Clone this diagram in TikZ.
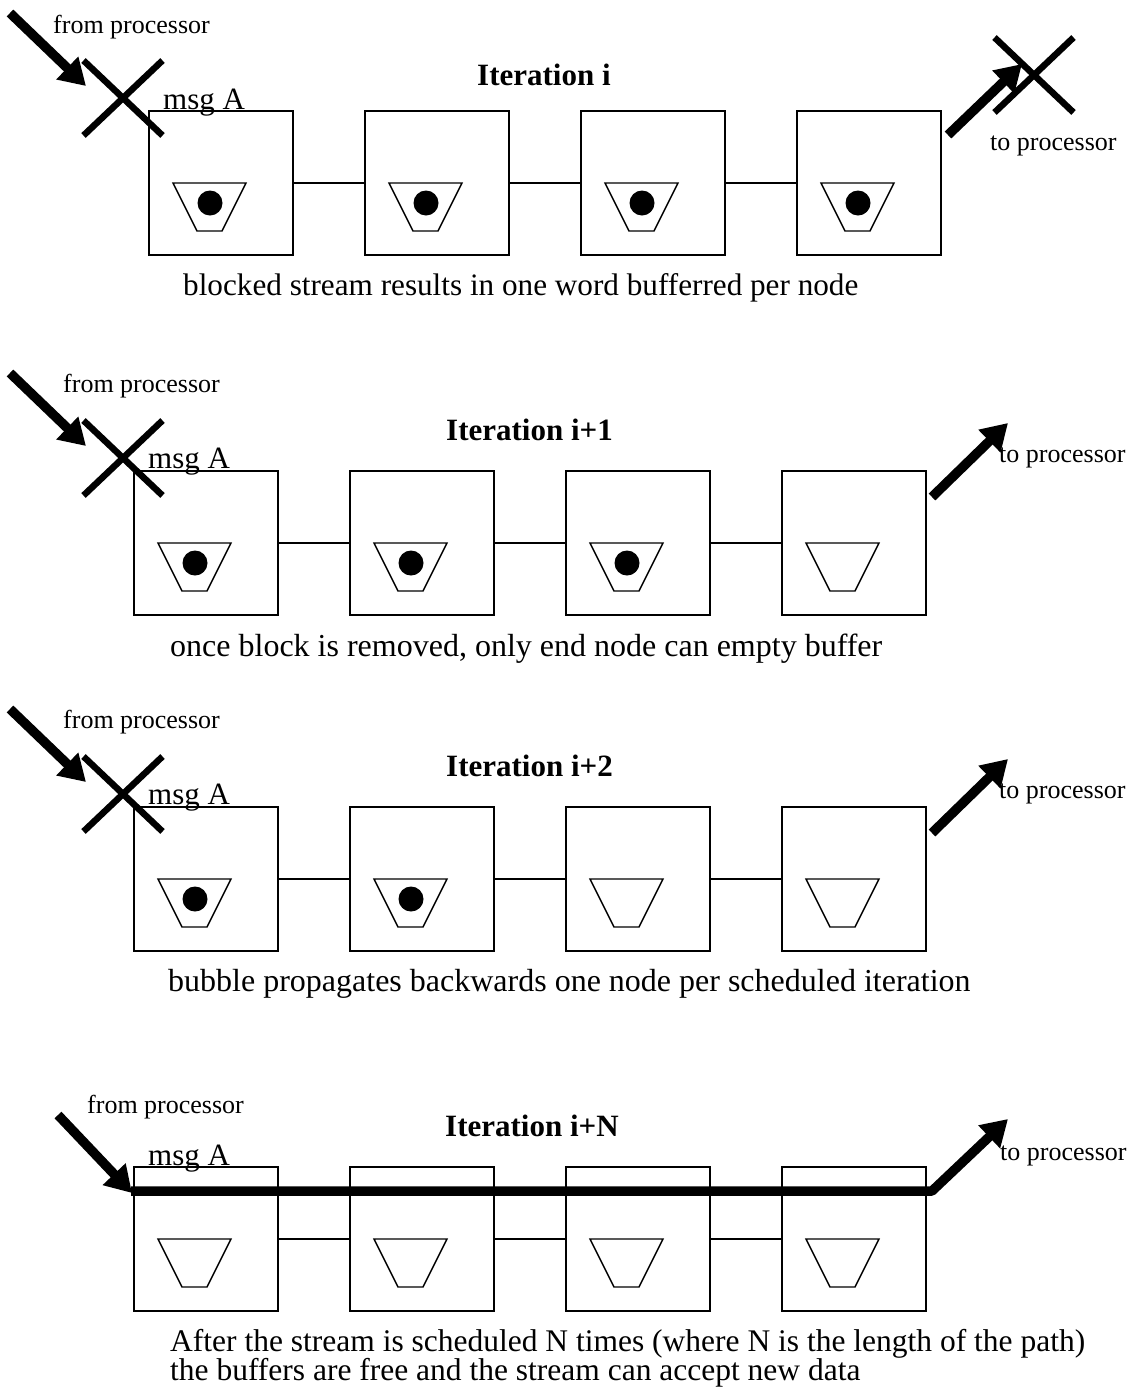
\documentclass[tikz,border=0pt]{standalone}
\usepackage{fontspec}
\setmainfont{Liberation Serif}
\usetikzlibrary{arrows.meta}

\tikzset{
  box/.style={draw, line width=1.6pt, minimum width=144pt, minimum height=144pt,
              inner sep=0pt, outer sep=0pt, anchor=north west},
  buf/.style={line width=1.4pt, line join=miter},
  link/.style={line width=1.4pt},
  fat/.style={line width=9.5pt, -{Triangle[length=26pt,width=30pt]}},
  crossline/.style={line width=6.5pt},
  lbl/.style={font=\fontsize{26}{30}\selectfont, anchor=base west, inner sep=0pt},
  msgtxt/.style={font=\fontsize{31}{36}\selectfont, anchor=base west, inner sep=0pt},
  ttl/.style={font=\fontsize{31}{36}\selectfont\bfseries, anchor=base west, inner sep=0pt},
  captxt/.style={font=\fontsize{32}{36}\selectfont, anchor=base west, inner sep=0pt},
}

% a stream node: name, left x, top y, buffer holds a word (1) or is empty (0)
\newcommand{\bufnode}[4]{%
  \node[box] (#1) at (#2,#3) {};
  \draw[buf] ([shift={(24,72)}]#1.north west) -- ([shift={(97,72)}]#1.north west)
     -- ([shift={(73,120)}]#1.north west) -- ([shift={(48,120)}]#1.north west) -- cycle;
  \ifnum#4=1 \fill ([shift={(61,92)}]#1.north west) circle[radius=12.5pt];\fi
}
% blocking cross centred on a coordinate
\newcommand{\blockmark}[1]{%
  \draw[crossline] ([shift={(-39.5,-37.5)}]#1) -- ([shift={(39.5,37.5)}]#1);
  \draw[crossline] ([shift={(39.5,-37.5)}]#1) -- ([shift={(-39.5,37.5)}]#1);
}

\begin{document}
\begin{tikzpicture}[x=1pt,y=-1pt]
\useasboundingbox (0,0) rectangle (1134,1390);

% ---------------- Iteration i ----------------
\bufnode{a1}{149}{111}{1}
\bufnode{a2}{365}{111}{1}
\bufnode{a3}{581}{111}{1}
\bufnode{a4}{797}{111}{1}
\draw[link] (a1.east) -- (a2.west);
\draw[link] (a2.east) -- (a3.west);
\draw[link] (a3.east) -- (a4.west);
\node[ttl] (a-t) at (477,85) {Iteration i};
\node[lbl] (a-from) at (53,33) {from processor};
\node[msgtxt] (a-msg) at (163,109) {msg A};
\coordinate (a-in) at (10,13);
\coordinate (a-intip) at (86,86);
\coordinate (a-x) at (123,98);
\blockmark{a-x}
\draw[fat] (a-in) -- (a-intip);
\coordinate (a-out) at ([shift={(7,24)}]a4.north east);
\coordinate (a-outtip) at (1022,64);
\coordinate (a-y) at (1034,75);
\blockmark{a-y}
\draw[fat] (a-out) -- (a-outtip);
\node[lbl] (a-to) at (990,150) {to processor};
\node[captxt, font=\fontsize{31.2}{36}\selectfont] (a-cap) at (183,295) {blocked stream results in one word bufferred per node};

% ---------------- Iteration i+1 ----------------
\bufnode{b1}{134}{471}{1}
\bufnode{b2}{350}{471}{1}
\bufnode{b3}{566}{471}{1}
\bufnode{b4}{782}{471}{0}
\draw[link] (b1.east) -- (b2.west);
\draw[link] (b2.east) -- (b3.west);
\draw[link] (b3.east) -- (b4.west);
\node[ttl] (b-t) at (446,440) {Iteration i+1};
\node[lbl] (b-from) at (63,392) {from processor};
\node[msgtxt] (b-msg) at (148,468) {msg A};
\coordinate (b-in) at (10,373);
\coordinate (b-intip) at (86,446);
\coordinate (b-x) at (123,458);
\blockmark{b-x}
\draw[fat] (b-in) -- (b-intip);
\coordinate (b-out) at ([shift={(6,26)}]b4.north east);
\coordinate (b-outtip) at (1008,423);
\draw[fat] (b-out) -- (b-outtip);
\node[lbl] (b-to) at (999,462) {to processor};
\node[captxt] (b-cap) at (170,656) {once block is removed, only end node can empty buffer};

% ---------------- Iteration i+2 ----------------
\bufnode{c1}{134}{807}{1}
\bufnode{c2}{350}{807}{1}
\bufnode{c3}{566}{807}{0}
\bufnode{c4}{782}{807}{0}
\draw[link] (c1.east) -- (c2.west);
\draw[link] (c2.east) -- (c3.west);
\draw[link] (c3.east) -- (c4.west);
\node[ttl] (c-t) at (446,776) {Iteration i+2};
\node[lbl] (c-from) at (63,728) {from processor};
\node[msgtxt] (c-msg) at (148,804) {msg A};
\coordinate (c-in) at (10,709);
\coordinate (c-intip) at (86,782);
\coordinate (c-x) at (123,794);
\blockmark{c-x}
\draw[fat] (c-in) -- (c-intip);
\coordinate (c-out) at ([shift={(6,26)}]c4.north east);
\coordinate (c-outtip) at (1008,759);
\draw[fat] (c-out) -- (c-outtip);
\node[lbl] (c-to) at (999,798) {to processor};
\node[captxt] (c-cap) at (168,991) {bubble propagates backwards one node per scheduled iteration};

% ---------------- Iteration i+N ----------------
\bufnode{d1}{134}{1167}{0}
\bufnode{d2}{350}{1167}{0}
\bufnode{d3}{566}{1167}{0}
\bufnode{d4}{782}{1167}{0}
\draw[link] (d1.east) -- (d2.west);
\draw[link] (d2.east) -- (d3.west);
\draw[link] (d3.east) -- (d4.west);
\node[ttl] (d-t) at (445,1136) {Iteration i+N};
\node[lbl] (d-from) at (87,1113) {from processor};
\node[msgtxt] (d-msg) at (148,1165) {msg A};
\coordinate (d-in) at (58,1115);
\coordinate (d-intip) at (132,1193);
\draw[fat] (d-in) -- (d-intip);
\coordinate (d-start) at ([shift={(-3,24)}]d1.north west);
\coordinate (d-bend) at ([shift={(6,24)}]d4.north east);
\coordinate (d-outtip) at (1008,1119);
\draw[fat, line join=bevel] (d-start) -- (d-bend) -- (d-outtip);
\node[lbl] (d-to) at (1000,1160) {to processor};
\node[captxt, font=\fontsize{31.5}{36}\selectfont] (d-cap1) at (170,1351) {After the stream is scheduled N times (where N is the length of the path)};
\node[captxt, font=\fontsize{31.5}{36}\selectfont] (d-cap2) at (170,1380) {the buffers are free and the stream can accept new data};
\end{tikzpicture}
\end{document}
